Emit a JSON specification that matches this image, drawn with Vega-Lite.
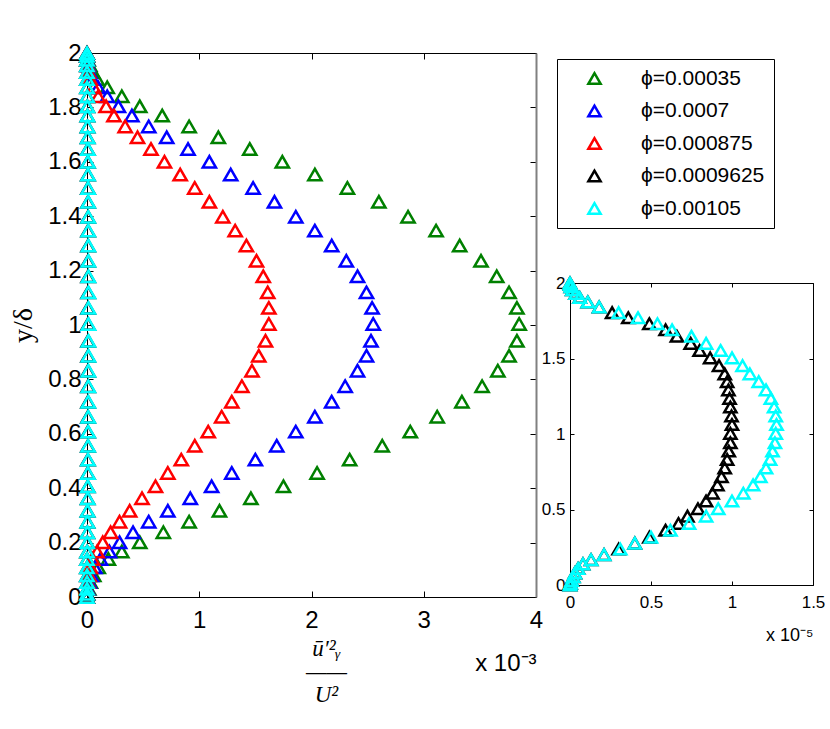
{
  "$schema": "https://vega.github.io/schema/vega-lite/v6.json",
  "padding": {"left": 9, "top": 41, "right": 0, "bottom": 0},
  "background": "white",
  "config": {
    "view": {"stroke": null},
    "font": "Liberation Sans",
    "axis": {"grid": false, "domainColor": "black", "tickColor": "black", "labelColor": "black", "titleColor": "black", "labelFont": "Liberation Sans", "labelFlush": false, "labelOverlap": false}
  },
  "datasets": {
    "pts": [
      {"s":"ϕ=0.00035","y":0,"x":0},{"s":"ϕ=0.00035","y":0.012,"x":0.004e-3},{"s":"ϕ=0.00035","y":0.03,"x":0.015e-3},{"s":"ϕ=0.00035","y":0.055,"x":0.03e-3},{"s":"ϕ=0.00035","y":0.08,"x":0.06e-3},{"s":"ϕ=0.00035","y":0.109,"x":0.10e-3},{"s":"ϕ=0.00035","y":0.14,"x":0.19e-3},{"s":"ϕ=0.00035","y":0.167,"x":0.31e-3},{"s":"ϕ=0.00035","y":0.201,"x":0.47e-3},{"s":"ϕ=0.00035","y":0.238,"x":0.68e-3},{"s":"ϕ=0.00035","y":0.277,"x":0.91e-3},{"s":"ϕ=0.00035","y":0.317,"x":1.18e-3},{"s":"ϕ=0.00035","y":0.363,"x":1.46e-3},{"s":"ϕ=0.00035","y":0.407,"x":1.75e-3},{"s":"ϕ=0.00035","y":0.456,"x":2.05e-3},{"s":"ϕ=0.00035","y":0.505,"x":2.34e-3},{"s":"ϕ=0.00035","y":0.556,"x":2.63e-3},{"s":"ϕ=0.00035","y":0.608,"x":2.88e-3},{"s":"ϕ=0.00035","y":0.663,"x":3.12e-3},{"s":"ϕ=0.00035","y":0.718,"x":3.34e-3},{"s":"ϕ=0.00035","y":0.775,"x":3.52e-3},{"s":"ϕ=0.00035","y":0.832,"x":3.66e-3},{"s":"ϕ=0.00035","y":0.887,"x":3.76e-3},{"s":"ϕ=0.00035","y":0.942,"x":3.83e-3},{"s":"ϕ=0.00035","y":1.004,"x":3.85e-3},{"s":"ϕ=0.00035","y":1.063,"x":3.83e-3},{"s":"ϕ=0.00035","y":1.12,"x":3.76e-3},{"s":"ϕ=0.00035","y":1.179,"x":3.65e-3},{"s":"ϕ=0.00035","y":1.236,"x":3.51e-3},{"s":"ϕ=0.00035","y":1.292,"x":3.32e-3},{"s":"ϕ=0.00035","y":1.347,"x":3.11e-3},{"s":"ϕ=0.00035","y":1.398,"x":2.86e-3},{"s":"ϕ=0.00035","y":1.453,"x":2.60e-3},{"s":"ϕ=0.00035","y":1.504,"x":2.32e-3},{"s":"ϕ=0.00035","y":1.553,"x":2.03e-3},{"s":"ϕ=0.00035","y":1.6,"x":1.74e-3},{"s":"ϕ=0.00035","y":1.647,"x":1.45e-3},{"s":"ϕ=0.00035","y":1.69,"x":1.17e-3},{"s":"ϕ=0.00035","y":1.73,"x":0.91e-3},{"s":"ϕ=0.00035","y":1.77,"x":0.67e-3},{"s":"ϕ=0.00035","y":1.804,"x":0.47e-3},{"s":"ϕ=0.00035","y":1.841,"x":0.31e-3},{"s":"ϕ=0.00035","y":1.874,"x":0.18e-3},{"s":"ϕ=0.00035","y":1.904,"x":0.09e-3},{"s":"ϕ=0.00035","y":1.93,"x":0.05e-3},{"s":"ϕ=0.00035","y":1.955,"x":0.025e-3},{"s":"ϕ=0.00035","y":1.975,"x":0.01e-3},{"s":"ϕ=0.00035","y":1.99,"x":0.003e-3},{"s":"ϕ=0.00035","y":2,"x":0},

      {"s":"ϕ=0.0007","y":0,"x":0},{"s":"ϕ=0.0007","y":0.012,"x":0.002e-3},{"s":"ϕ=0.0007","y":0.03,"x":0.008e-3},{"s":"ϕ=0.0007","y":0.055,"x":0.02e-3},{"s":"ϕ=0.0007","y":0.08,"x":0.04e-3},{"s":"ϕ=0.0007","y":0.109,"x":0.07e-3},{"s":"ϕ=0.0007","y":0.14,"x":0.12e-3},{"s":"ϕ=0.0007","y":0.167,"x":0.20e-3},{"s":"ϕ=0.0007","y":0.201,"x":0.29e-3},{"s":"ϕ=0.0007","y":0.238,"x":0.41e-3},{"s":"ϕ=0.0007","y":0.277,"x":0.55e-3},{"s":"ϕ=0.0007","y":0.317,"x":0.72e-3},{"s":"ϕ=0.0007","y":0.363,"x":0.92e-3},{"s":"ϕ=0.0007","y":0.407,"x":1.11e-3},{"s":"ϕ=0.0007","y":0.456,"x":1.29e-3},{"s":"ϕ=0.0007","y":0.505,"x":1.50e-3},{"s":"ϕ=0.0007","y":0.556,"x":1.69e-3},{"s":"ϕ=0.0007","y":0.608,"x":1.86e-3},{"s":"ϕ=0.0007","y":0.663,"x":2.03e-3},{"s":"ϕ=0.0007","y":0.718,"x":2.18e-3},{"s":"ϕ=0.0007","y":0.775,"x":2.30e-3},{"s":"ϕ=0.0007","y":0.832,"x":2.41e-3},{"s":"ϕ=0.0007","y":0.887,"x":2.49e-3},{"s":"ϕ=0.0007","y":0.942,"x":2.53e-3},{"s":"ϕ=0.0007","y":1.004,"x":2.55e-3},{"s":"ϕ=0.0007","y":1.063,"x":2.54e-3},{"s":"ϕ=0.0007","y":1.12,"x":2.49e-3},{"s":"ϕ=0.0007","y":1.179,"x":2.41e-3},{"s":"ϕ=0.0007","y":1.236,"x":2.31e-3},{"s":"ϕ=0.0007","y":1.292,"x":2.18e-3},{"s":"ϕ=0.0007","y":1.347,"x":2.03e-3},{"s":"ϕ=0.0007","y":1.398,"x":1.86e-3},{"s":"ϕ=0.0007","y":1.453,"x":1.67e-3},{"s":"ϕ=0.0007","y":1.504,"x":1.48e-3},{"s":"ϕ=0.0007","y":1.553,"x":1.28e-3},{"s":"ϕ=0.0007","y":1.6,"x":1.09e-3},{"s":"ϕ=0.0007","y":1.647,"x":0.90e-3},{"s":"ϕ=0.0007","y":1.69,"x":0.71e-3},{"s":"ϕ=0.0007","y":1.73,"x":0.55e-3},{"s":"ϕ=0.0007","y":1.77,"x":0.40e-3},{"s":"ϕ=0.0007","y":1.804,"x":0.28e-3},{"s":"ϕ=0.0007","y":1.841,"x":0.18e-3},{"s":"ϕ=0.0007","y":1.874,"x":0.10e-3},{"s":"ϕ=0.0007","y":1.904,"x":0.05e-3},{"s":"ϕ=0.0007","y":1.93,"x":0.025e-3},{"s":"ϕ=0.0007","y":1.955,"x":0.012e-3},{"s":"ϕ=0.0007","y":1.975,"x":0.005e-3},{"s":"ϕ=0.0007","y":1.99,"x":0.001e-3},{"s":"ϕ=0.0007","y":2,"x":0},

      {"s":"ϕ=0.000875","y":0,"x":0},{"s":"ϕ=0.000875","y":0.012,"x":0.001e-3},{"s":"ϕ=0.000875","y":0.03,"x":0.003e-3},{"s":"ϕ=0.000875","y":0.055,"x":0.008e-3},{"s":"ϕ=0.000875","y":0.08,"x":0.018e-3},{"s":"ϕ=0.000875","y":0.109,"x":0.03e-3},{"s":"ϕ=0.000875","y":0.14,"x":0.05e-3},{"s":"ϕ=0.000875","y":0.167,"x":0.09e-3},{"s":"ϕ=0.000875","y":0.201,"x":0.14e-3},{"s":"ϕ=0.000875","y":0.238,"x":0.21e-3},{"s":"ϕ=0.000875","y":0.277,"x":0.29e-3},{"s":"ϕ=0.000875","y":0.317,"x":0.38e-3},{"s":"ϕ=0.000875","y":0.363,"x":0.49e-3},{"s":"ϕ=0.000875","y":0.407,"x":0.61e-3},{"s":"ϕ=0.000875","y":0.456,"x":0.72e-3},{"s":"ϕ=0.000875","y":0.505,"x":0.84e-3},{"s":"ϕ=0.000875","y":0.556,"x":0.96e-3},{"s":"ϕ=0.000875","y":0.608,"x":1.08e-3},{"s":"ϕ=0.000875","y":0.663,"x":1.20e-3},{"s":"ϕ=0.000875","y":0.718,"x":1.29e-3},{"s":"ϕ=0.000875","y":0.775,"x":1.38e-3},{"s":"ϕ=0.000875","y":0.832,"x":1.47e-3},{"s":"ϕ=0.000875","y":0.887,"x":1.53e-3},{"s":"ϕ=0.000875","y":0.942,"x":1.59e-3},{"s":"ϕ=0.000875","y":1.004,"x":1.62e-3},{"s":"ϕ=0.000875","y":1.063,"x":1.62e-3},{"s":"ϕ=0.000875","y":1.12,"x":1.61e-3},{"s":"ϕ=0.000875","y":1.179,"x":1.57e-3},{"s":"ϕ=0.000875","y":1.236,"x":1.51e-3},{"s":"ϕ=0.000875","y":1.292,"x":1.42e-3},{"s":"ϕ=0.000875","y":1.347,"x":1.32e-3},{"s":"ϕ=0.000875","y":1.398,"x":1.21e-3},{"s":"ϕ=0.000875","y":1.453,"x":1.09e-3},{"s":"ϕ=0.000875","y":1.504,"x":0.96e-3},{"s":"ϕ=0.000875","y":1.553,"x":0.83e-3},{"s":"ϕ=0.000875","y":1.6,"x":0.69e-3},{"s":"ϕ=0.000875","y":1.647,"x":0.57e-3},{"s":"ϕ=0.000875","y":1.69,"x":0.45e-3},{"s":"ϕ=0.000875","y":1.73,"x":0.34e-3},{"s":"ϕ=0.000875","y":1.77,"x":0.24e-3},{"s":"ϕ=0.000875","y":1.804,"x":0.17e-3},{"s":"ϕ=0.000875","y":1.841,"x":0.10e-3},{"s":"ϕ=0.000875","y":1.874,"x":0.06e-3},{"s":"ϕ=0.000875","y":1.904,"x":0.03e-3},{"s":"ϕ=0.000875","y":1.93,"x":0.015e-3},{"s":"ϕ=0.000875","y":1.955,"x":0.006e-3},{"s":"ϕ=0.000875","y":1.975,"x":0.002e-3},{"s":"ϕ=0.000875","y":1.99,"x":0.0005e-3},{"s":"ϕ=0.000875","y":2,"x":0},

      {"s":"ϕ=0.0009625","y":0,"x":0},{"s":"ϕ=0.0009625","y":0.012,"x":0.003e-5},{"s":"ϕ=0.0009625","y":0.03,"x":0.01e-5},{"s":"ϕ=0.0009625","y":0.055,"x":0.02e-5},{"s":"ϕ=0.0009625","y":0.08,"x":0.03e-5},{"s":"ϕ=0.0009625","y":0.109,"x":0.05e-5},{"s":"ϕ=0.0009625","y":0.14,"x":0.08e-5},{"s":"ϕ=0.0009625","y":0.167,"x":0.13e-5},{"s":"ϕ=0.0009625","y":0.201,"x":0.21e-5},{"s":"ϕ=0.0009625","y":0.238,"x":0.30e-5},{"s":"ϕ=0.0009625","y":0.277,"x":0.40e-5},{"s":"ϕ=0.0009625","y":0.317,"x":0.49e-5},{"s":"ϕ=0.0009625","y":0.363,"x":0.59e-5},{"s":"ϕ=0.0009625","y":0.407,"x":0.67e-5},{"s":"ϕ=0.0009625","y":0.456,"x":0.725e-5},{"s":"ϕ=0.0009625","y":0.505,"x":0.79e-5},{"s":"ϕ=0.0009625","y":0.556,"x":0.84e-5},{"s":"ϕ=0.0009625","y":0.608,"x":0.88e-5},{"s":"ϕ=0.0009625","y":0.663,"x":0.91e-5},{"s":"ϕ=0.0009625","y":0.718,"x":0.935e-5},{"s":"ϕ=0.0009625","y":0.775,"x":0.955e-5},{"s":"ϕ=0.0009625","y":0.832,"x":0.97e-5},{"s":"ϕ=0.0009625","y":0.887,"x":0.98e-5},{"s":"ϕ=0.0009625","y":0.942,"x":0.99e-5},{"s":"ϕ=0.0009625","y":1.004,"x":0.99e-5},{"s":"ϕ=0.0009625","y":1.063,"x":1.0e-5},{"s":"ϕ=0.0009625","y":1.12,"x":0.997e-5},{"s":"ϕ=0.0009625","y":1.179,"x":0.99e-5},{"s":"ϕ=0.0009625","y":1.236,"x":0.985e-5},{"s":"ϕ=0.0009625","y":1.292,"x":0.978e-5},{"s":"ϕ=0.0009625","y":1.347,"x":0.97e-5},{"s":"ϕ=0.0009625","y":1.398,"x":0.955e-5},{"s":"ϕ=0.0009625","y":1.453,"x":0.92e-5},{"s":"ϕ=0.0009625","y":1.504,"x":0.865e-5},{"s":"ϕ=0.0009625","y":1.553,"x":0.80e-5},{"s":"ϕ=0.0009625","y":1.6,"x":0.745e-5},{"s":"ϕ=0.0009625","y":1.647,"x":0.66e-5},{"s":"ϕ=0.0009625","y":1.69,"x":0.59e-5},{"s":"ϕ=0.0009625","y":1.73,"x":0.49e-5},{"s":"ϕ=0.0009625","y":1.77,"x":0.36e-5},{"s":"ϕ=0.0009625","y":1.804,"x":0.26e-5},{"s":"ϕ=0.0009625","y":1.841,"x":0.18e-5},{"s":"ϕ=0.0009625","y":1.874,"x":0.11e-5},{"s":"ϕ=0.0009625","y":1.904,"x":0.06e-5},{"s":"ϕ=0.0009625","y":1.93,"x":0.035e-5},{"s":"ϕ=0.0009625","y":1.955,"x":0.015e-5},{"s":"ϕ=0.0009625","y":1.975,"x":0.006e-5},{"s":"ϕ=0.0009625","y":1.99,"x":0.002e-5},{"s":"ϕ=0.0009625","y":2,"x":0},

      {"s":"ϕ=0.00105","y":0,"x":0},{"s":"ϕ=0.00105","y":0.012,"x":0.003e-5},{"s":"ϕ=0.00105","y":0.03,"x":0.01e-5},{"s":"ϕ=0.00105","y":0.055,"x":0.02e-5},{"s":"ϕ=0.00105","y":0.08,"x":0.03e-5},{"s":"ϕ=0.00105","y":0.109,"x":0.05e-5},{"s":"ϕ=0.00105","y":0.14,"x":0.08e-5},{"s":"ϕ=0.00105","y":0.167,"x":0.13e-5},{"s":"ϕ=0.00105","y":0.201,"x":0.21e-5},{"s":"ϕ=0.00105","y":0.238,"x":0.31e-5},{"s":"ϕ=0.00105","y":0.277,"x":0.40e-5},{"s":"ϕ=0.00105","y":0.317,"x":0.50e-5},{"s":"ϕ=0.00105","y":0.363,"x":0.62e-5},{"s":"ϕ=0.00105","y":0.407,"x":0.735e-5},{"s":"ϕ=0.00105","y":0.456,"x":0.84e-5},{"s":"ϕ=0.00105","y":0.505,"x":0.915e-5},{"s":"ϕ=0.00105","y":0.556,"x":1.00e-5},{"s":"ϕ=0.00105","y":0.608,"x":1.07e-5},{"s":"ϕ=0.00105","y":0.663,"x":1.13e-5},{"s":"ϕ=0.00105","y":0.718,"x":1.175e-5},{"s":"ϕ=0.00105","y":0.775,"x":1.21e-5},{"s":"ϕ=0.00105","y":0.832,"x":1.235e-5},{"s":"ϕ=0.00105","y":0.887,"x":1.25e-5},{"s":"ϕ=0.00105","y":0.942,"x":1.265e-5},{"s":"ϕ=0.00105","y":1.004,"x":1.27e-5},{"s":"ϕ=0.00105","y":1.063,"x":1.275e-5},{"s":"ϕ=0.00105","y":1.12,"x":1.27e-5},{"s":"ϕ=0.00105","y":1.179,"x":1.26e-5},{"s":"ϕ=0.00105","y":1.236,"x":1.24e-5},{"s":"ϕ=0.00105","y":1.292,"x":1.21e-5},{"s":"ϕ=0.00105","y":1.347,"x":1.165e-5},{"s":"ϕ=0.00105","y":1.398,"x":1.11e-5},{"s":"ϕ=0.00105","y":1.453,"x":1.065e-5},{"s":"ϕ=0.00105","y":1.504,"x":1.00e-5},{"s":"ϕ=0.00105","y":1.553,"x":0.93e-5},{"s":"ϕ=0.00105","y":1.6,"x":0.84e-5},{"s":"ϕ=0.00105","y":1.647,"x":0.75e-5},{"s":"ϕ=0.00105","y":1.69,"x":0.63e-5},{"s":"ϕ=0.00105","y":1.73,"x":0.54e-5},{"s":"ϕ=0.00105","y":1.77,"x":0.42e-5},{"s":"ϕ=0.00105","y":1.804,"x":0.30e-5},{"s":"ϕ=0.00105","y":1.841,"x":0.18e-5},{"s":"ϕ=0.00105","y":1.874,"x":0.11e-5},{"s":"ϕ=0.00105","y":1.904,"x":0.06e-5},{"s":"ϕ=0.00105","y":1.93,"x":0.035e-5},{"s":"ϕ=0.00105","y":1.955,"x":0.015e-5},{"s":"ϕ=0.00105","y":1.975,"x":0.006e-5},{"s":"ϕ=0.00105","y":1.99,"x":0.002e-5},{"s":"ϕ=0.00105","y":2,"x":0}
    ],
    "one": [{"a": 1}]
  },
  "hconcat": [
    {
      "width": 449,
      "height": 544,
      "data": {"name": "pts"},
      "layer": [
        {
          "mark": {"type": "point", "shape": "triangle-up", "filled": false, "size": 175, "strokeWidth": 2.5, "opacity": 1},
          "encoding": {
            "x": {"field": "x", "type": "quantitative", "scale": {"domain": [0, 0.004], "nice": false, "zero": false},
              "axis": {"orient": "bottom", "values": [0, 0.001, 0.002, 0.003, 0.004], "labelExpr": "format(datum.value*1000, '~g')", "labelFontSize": 24, "tickSize": -6, "labelPadding": 17, "domainWidth": 1,
                "title": ["ū′²ᵧ", "——", "U²"], "titleFont": "Liberation Serif", "titleFontStyle": "italic", "titleFontWeight": "normal", "titleFontSize": 23, "titleLineHeight": 23, "titleX": 239, "titleY": 40, "titleBaseline": "top", "titleAlign": "center"}},
            "y": {"field": "y", "type": "quantitative", "scale": {"domain": [0, 2], "nice": false, "zero": false},
              "axis": {"orient": "left", "values": [0, 0.2, 0.4, 0.6, 0.8, 1, 1.2, 1.4, 1.6, 1.8, 2], "format": "~g", "labelFontSize": 24, "tickSize": -6, "labelPadding": 12, "domainWidth": 1,
                "title": "y/δ", "titleFont": "Liberation Serif", "titleFontWeight": "normal", "titleFontSize": 28, "titlePadding": 10}},
            "color": {"field": "s", "type": "nominal",
              "scale": {"domain": ["ϕ=0.00035", "ϕ=0.0007", "ϕ=0.000875", "ϕ=0.0009625", "ϕ=0.00105"], "range": ["#008000", "#0000ff", "#ff0000", "#000000", "#00ffff"]},
              "legend": {"orient": "none", "legendX": 470, "legendY": 6, "title": null, "symbolType": "triangle-up", "symbolSize": 150, "symbolStrokeWidth": 2.5, "labelFont": "Liberation Sans", "labelFontSize": 21, "labelColor": "black", "padding": 9, "symbolOffset": 18, "labelOffset": 36, "rowPadding": 10.5, "strokeColor": "black", "fillColor": "white", "labelLimit": 300}}
          }
        },
        {
          "mark": {"type": "point", "opacity": 0},
          "encoding": {
            "x": {"field": "x", "type": "quantitative", "axis": {"orient": "top", "values": [0, 0.001, 0.002, 0.003, 0.004], "labels": false, "tickSize": -6, "title": null}},
            "y": {"field": "y", "type": "quantitative", "axis": {"orient": "right", "values": [0, 0.2, 0.4, 0.6, 0.8, 1, 1.2, 1.4, 1.6, 1.8, 2], "labels": false, "tickSize": -6, "title": null, "domainColor": "#808080", "domainWidth": 2}}
          }
        },
        {
          "mark": {"type": "point", "opacity": 0},
          "encoding": {
            "x": {"field": "x", "type": "quantitative", "axis": {"orient": "bottom", "labels": false, "ticks": false, "domain": false, "title": "x 10⁻³", "titleFont": "Liberation Sans", "titleFontWeight": "normal", "titleFontSize": 24, "titleX": 449, "titleY": 73, "titleAlign": "right", "titleBaseline": "alphabetic"}}
          }
        }
      ],
      "resolve": {"axis": {"x": "independent", "y": "independent"}}
    },
    {
      "vconcat": [
        {
          "width": 243, "height": 230,
          "data": {"name": "one"},
          "mark": {"type": "point", "opacity": 0}
        },
        {
          "width": 243, "height": 302,
          "data": {"name": "pts"},
          "transform": [{"filter": "datum.s == 'ϕ=0.0009625' || datum.s == 'ϕ=0.00105'"}],
          "layer": [
            {
              "mark": {"type": "point", "shape": "triangle-up", "filled": false, "size": 150, "strokeWidth": 2.5, "opacity": 1},
              "encoding": {
                "x": {"field": "x", "type": "quantitative", "scale": {"domain": [0, 1.5e-5], "nice": false, "zero": false},
                  "axis": {"orient": "bottom", "values": [0, 5e-6, 1e-5, 1.5e-5], "labelExpr": "format(datum.value*100000, '~g')", "labelFontSize": 17, "tickSize": -4, "labelPadding": 13, "title": null}},
                "y": {"field": "y", "type": "quantitative", "scale": {"domain": [0, 2], "nice": false, "zero": false},
                  "axis": {"orient": "left", "values": [0, 0.5, 1, 1.5, 2], "format": "~g", "labelFontSize": 17, "tickSize": -4, "labelPadding": 9, "title": null}},
                "color": {"field": "s", "type": "nominal", "legend": null}
              }
            },
            {
              "mark": {"type": "point", "opacity": 0},
              "encoding": {
                "x": {"field": "x", "type": "quantitative", "axis": {"orient": "top", "values": [0, 5e-6, 1e-5, 1.5e-5], "labels": false, "tickSize": -4, "title": null}},
                "y": {"field": "y", "type": "quantitative", "axis": {"orient": "right", "values": [0, 0.5, 1, 1.5, 2], "labels": false, "tickSize": -4, "title": null}}
              }
            },
            {
              "mark": {"type": "point", "opacity": 0},
              "encoding": {
                "x": {"field": "x", "type": "quantitative", "axis": {"orient": "bottom", "labels": false, "ticks": false, "domain": false, "title": "x 10⁻⁵", "titleFont": "Liberation Sans", "titleFontWeight": "normal", "titleFontSize": 18, "titleX": 243, "titleY": 55, "titleAlign": "right", "titleBaseline": "alphabetic"}}
              }
            }
          ],
          "resolve": {"axis": {"x": "independent", "y": "independent"}}
        }
      ],
      "spacing": 0,
      "bounds": "flush"
    }
  ],
  "spacing": 34,
  "bounds": "flush"
}
